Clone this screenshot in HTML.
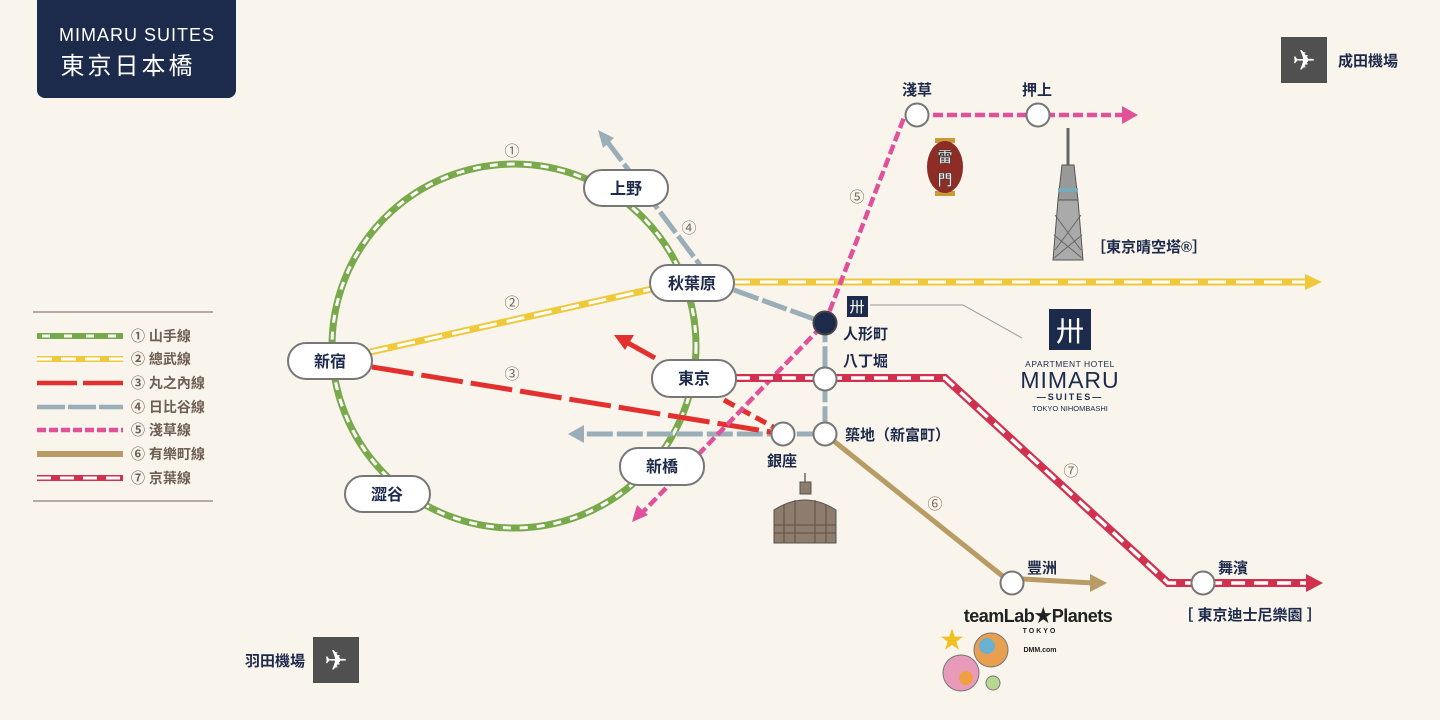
<!DOCTYPE html>
<html><head><meta charset="utf-8"><style>
html,body{margin:0;padding:0;background:#f9f4ec;}
svg{display:block}
text{font-family:"Liberation Sans","Noto Sans CJK TC",sans-serif;}
.st{font-size:15px;font-weight:bold;fill:#1d2a4b;}
.pl{font-size:16px;font-weight:bold;fill:#1d2a4b;text-anchor:middle;}
.num{font-size:15px;fill:#7a6a5a;text-anchor:middle;}
.lg{font-size:14px;font-weight:bold;fill:#6e5f53;}
</style></head><body>
<svg width="1440" height="720" viewBox="0 0 1440 720" xmlns="http://www.w3.org/2000/svg">
<rect width="1440" height="720" fill="#f9f4ec"/>
<!-- header -->
<path d="M37,0H236V90a8,8 0 0 1 -8,8H45a8,8 0 0 1 -8,-8z" fill="#1c2a4b"/>
<text x="137" y="41" fill="#fff" font-size="18" text-anchor="middle" style="letter-spacing:1px">MIMARU SUITES</text>
<text x="128" y="74" fill="#fff" font-size="24" text-anchor="middle" style="letter-spacing:3px">東京日本橋</text>

<!-- legend -->
<line x1="33" y1="312" x2="213" y2="312" stroke="#b5aba3" stroke-width="2"/>
<line x1="33" y1="501" x2="213" y2="501" stroke="#b5aba3" stroke-width="2"/>
<g stroke-width="6">
<line x1="37" y1="336" x2="123" y2="336" stroke="#78a94a"/><line x1="42" y1="336" x2="123" y2="336" stroke="#fff" stroke-width="3" stroke-dasharray="8,14"/>
<line x1="37" y1="359" x2="123" y2="359" stroke="#f0c93a"/><line x1="37" y1="359" x2="123" y2="359" stroke="#fff" stroke-width="3" stroke-dasharray="15,9"/>
<line x1="37" y1="383" x2="123" y2="383" stroke="#e3302e" stroke-width="4.5" stroke-dasharray="40,6"/>
<line x1="37" y1="407" x2="123" y2="407" stroke="#9aaeb8" stroke-width="4.5" stroke-dasharray="28,3"/>
<line x1="37" y1="430" x2="123" y2="430" stroke="#e0519a" stroke-width="4.5" stroke-dasharray="9,3"/>
<line x1="37" y1="454" x2="123" y2="454" stroke="#b99b66"/>
<line x1="37" y1="478" x2="123" y2="478" stroke="#d1304f"/><line x1="37" y1="478" x2="123" y2="478" stroke="#fff" stroke-width="3" stroke-dasharray="14,9"/>
</g>
<text class="lg" x="131" y="341">① 山手線</text>
<text class="lg" x="131" y="364">② 總武線</text>
<text class="lg" x="131" y="388">③ 丸之內線</text>
<text class="lg" x="131" y="412">④ 日比谷線</text>
<text class="lg" x="131" y="435">⑤ 淺草線</text>
<text class="lg" x="131" y="459">⑥ 有樂町線</text>
<text class="lg" x="131" y="483">⑦ 京葉線</text>

<!-- Yamanote circle -->
<circle cx="514" cy="346" r="182" fill="none" stroke="#78a94a" stroke-width="7"/>
<circle cx="514" cy="346" r="182" fill="none" stroke="#fff" stroke-width="3" stroke-dasharray="8,9"/>

<!-- Sobu yellow -->
<g>
<line x1="370" y1="352" x2="652" y2="289" stroke="#f0c93a" stroke-width="7"/>
<line x1="370" y1="352" x2="652" y2="289" stroke="#fff" stroke-width="3" stroke-dasharray="18,10"/>
<line x1="732" y1="282" x2="1308" y2="282" stroke="#f0c93a" stroke-width="7"/>
<line x1="732" y1="282" x2="1305" y2="282" stroke="#fff" stroke-width="3" stroke-dasharray="18,10"/>
<path d="M1305,274L1322,282L1305,290z" fill="#f0c93a"/>
</g>

<!-- Hibiya gray -->
<g stroke="#9aaeb8" stroke-width="5" fill="none" stroke-dasharray="26,4">
<polyline points="606,140 700,265"/>
<polyline points="734,290 825,323 825,434 580,434"/>
</g>
<path d="M598,130L614,138L603,148z" fill="#9aaeb8"/>
<path d="M568,434L584,425L584,443z" fill="#9aaeb8"/>

<!-- Marunouchi red -->
<line x1="372" y1="367" x2="783" y2="434" stroke="#e3302e" stroke-width="5" stroke-dasharray="42,8"/>
<line x1="724" y1="400" x2="775" y2="428" stroke="#e3302e" stroke-width="5" stroke-dasharray="12,6"/>
<line x1="655" y1="358" x2="628" y2="343" stroke="#e3302e" stroke-width="5"/>
<path d="M614,335L634,335L625,350z" fill="#e3302e"/>

<!-- Asakusa pink -->
<polyline points="1125,115 905,115 825,323 642,513" fill="none" stroke="#e0519a" stroke-width="4.5" stroke-dasharray="10,4"/>
<path d="M1122,106L1138,115L1122,124z" fill="#e0519a"/>
<path d="M632,522L637,505L648,515z" fill="#e0519a"/>

<!-- Yurakucho brown -->
<polyline points="825,434 1005,578 1093,583" fill="none" stroke="#b99b66" stroke-width="5"/>
<path d="M1090,574L1107,583L1090,592z" fill="#b99b66"/>

<!-- Keiyo crimson -->
<polyline points="736,378 945,378 1168,583 1308,583" fill="none" stroke="#d1304f" stroke-width="8" stroke-linejoin="miter"/>
<polyline points="736,378 945,378 1168,583 1308,583" fill="none" stroke="#fff" stroke-width="3.5" stroke-dasharray="14,9"/>
<path d="M1306,574L1323,583L1306,592z" fill="#d1304f"/>

<!-- line numbers -->
<text class="num" x="512" y="156">①</text>
<text class="num" x="512" y="308">②</text>
<text class="num" x="512" y="379">③</text>
<text class="num" x="689" y="233">④</text>
<text class="num" x="857" y="202">⑤</text>
<text class="num" x="935" y="509">⑥</text>
<text class="num" x="1071" y="476">⑦</text>

<!-- pill stations -->
<g fill="#fff" stroke="#777" stroke-width="2">
<rect x="584" y="170" width="84" height="36" rx="18"/>
<rect x="650" y="265" width="84" height="36" rx="18"/>
<rect x="288" y="343" width="84" height="36" rx="18"/>
<rect x="652" y="360" width="84" height="37" rx="18"/>
<rect x="620" y="448" width="84" height="37" rx="18"/>
<rect x="345" y="476" width="85" height="36" rx="18"/>
</g>
<text class="pl" x="626" y="194">上野</text>
<text class="pl" x="692" y="289">秋葉原</text>
<text class="pl" x="330" y="367">新宿</text>
<text class="pl" x="694" y="384">東京</text>
<text class="pl" x="662" y="472">新橋</text>
<text class="pl" x="387" y="500">澀谷</text>

<!-- small stations -->
<g fill="#fff" stroke="#777" stroke-width="2">
<circle cx="825" cy="379" r="11.5"/>
<circle cx="825" cy="434" r="11.5"/>
<circle cx="783" cy="434" r="11.5"/>
<circle cx="917" cy="115" r="11.5"/>
<circle cx="1038" cy="115" r="11.5"/>
<circle cx="1012" cy="583" r="11.5"/>
<circle cx="1203" cy="583" r="11.5"/>
</g>
<circle cx="825" cy="323" r="11.5" fill="#1c2a4b" stroke="#444" stroke-width="2"/>
<text class="st" x="843" y="339" font-size="14">人形町</text>
<text class="st" x="843" y="366" font-size="14">八丁堀</text>
<text class="st" x="845" y="440" font-size="14">築地（新富町）</text>
<text class="st" x="767" y="466" font-size="14">銀座</text>
<text class="st" x="902" y="95" font-size="14">淺草</text>
<text class="st" x="1022" y="95" font-size="14">押上</text>
<text class="st" x="1027" y="573" font-size="14">豐洲</text>
<text class="st" x="1218" y="573" font-size="14">舞濱</text>

<!-- hotel marker and logo -->
<rect x="847" y="296" width="21" height="21" fill="#1c2a4b"/>
<text x="857" y="312" fill="#fff" font-size="15" text-anchor="middle">卅</text>
<polyline points="870,305 963,305 1022,338" fill="none" stroke="#999" stroke-width="1"/>
<rect x="1049" y="309" width="42" height="41" fill="#1c2a4b"/>
<text x="1070" y="341" fill="#fff" font-size="28" text-anchor="middle">卅</text>
<text x="1070" y="367" fill="#1c2a4b" font-size="8.5" text-anchor="middle" style="letter-spacing:0.5px">APARTMENT HOTEL</text>
<text x="1070" y="388" fill="#1c2a4b" font-size="23" text-anchor="middle" style="letter-spacing:1px">MIMARU</text>
<text x="1070" y="400" fill="#1c2a4b" font-size="9" font-weight="bold" text-anchor="middle" style="letter-spacing:2px">—SUITES—</text>
<text x="1070" y="411" fill="#1c2a4b" font-size="7.5" text-anchor="middle">TOKYO NIHOMBASHI</text>

<!-- lantern -->
<rect x="935" y="138" width="20" height="5" fill="#c89a3a"/>
<rect x="935" y="191" width="20" height="5" fill="#c89a3a"/>
<ellipse cx="945" cy="167" rx="18" ry="26" fill="#8e2d25"/>
<text x="945" y="162" fill="#eee" font-size="15" font-weight="bold" text-anchor="middle" stroke="#333" stroke-width="0.5">雷</text>
<text x="945" y="185" fill="#eee" font-size="15" font-weight="bold" text-anchor="middle" stroke="#333" stroke-width="0.5">門</text>

<!-- skytree -->
<line x1="1068" y1="128" x2="1068" y2="165" stroke="#666" stroke-width="3"/>
<path d="M1062,165H1074L1078,200H1058z" fill="#999" stroke="#555"/>
<rect x="1058" y="188" width="20" height="4" fill="#7ab"/>
<path d="M1058,200H1078L1083,260H1053z" fill="#aaa" stroke="#555"/>
<path d="M1055,215L1081,250M1081,215L1055,250M1054,235L1082,258M1082,235L1054,258" stroke="#666" stroke-width="1"/>
<text class="st" x="1091" y="252" font-size="12">［東京晴空塔®］</text>

<!-- ginza building -->
<line x1="805" y1="473" x2="805" y2="483" stroke="#666" stroke-width="1.5"/>
<rect x="800" y="482" width="11" height="12" fill="#8e7c6d" stroke="#555"/>
<path d="M774,510Q805,490 836,510V543H774z" fill="#8e7c6d" stroke="#555"/>
<path d="M774,525H836M774,533H836M784,505V543M795,500V543M815,500V543M826,505V543" stroke="#5d5047" stroke-width="1"/>

<!-- teamlab -->
<text x="1038" y="622" fill="#222" font-size="18" font-weight="bold" text-anchor="middle" style="letter-spacing:-0.5px">teamLab★Planets</text>
<text x="1040" y="633" fill="#222" font-size="7" font-weight="bold" text-anchor="middle" style="letter-spacing:2px">TOKYO</text>
<text x="1040" y="652" fill="#222" font-size="7" font-weight="bold" text-anchor="middle">DMM.com</text>
<text x="952" y="648" fill="#f0c020" font-size="24" text-anchor="middle">★</text>
<circle cx="991" cy="650" r="17" fill="#e8a050" stroke="#777"/>
<circle cx="987" cy="646" r="8" fill="#6ab0d0"/>
<circle cx="961" cy="673" r="18" fill="#e89aba" stroke="#777"/>
<circle cx="966" cy="678" r="7" fill="#f0a040"/>
<circle cx="993" cy="683" r="7" fill="#b8d890" stroke="#777"/>
<text class="st" x="1250" y="620" font-size="12.5" text-anchor="middle">［ 東京迪士尼樂園 ］</text>

<!-- airports -->
<rect x="1281" y="37" width="46" height="46" fill="#505050"/>
<text x="1304" y="70" fill="#fff" font-size="28" text-anchor="middle">✈</text>
<text class="st" x="1338" y="66" font-size="13">成田機場</text>
<rect x="313" y="637" width="46" height="46" fill="#505050"/>
<text x="336" y="670" fill="#fff" font-size="28" text-anchor="middle">✈</text>
<text class="st" x="305" y="666" font-size="13" text-anchor="end">羽田機場</text>
</svg>
</body></html>
